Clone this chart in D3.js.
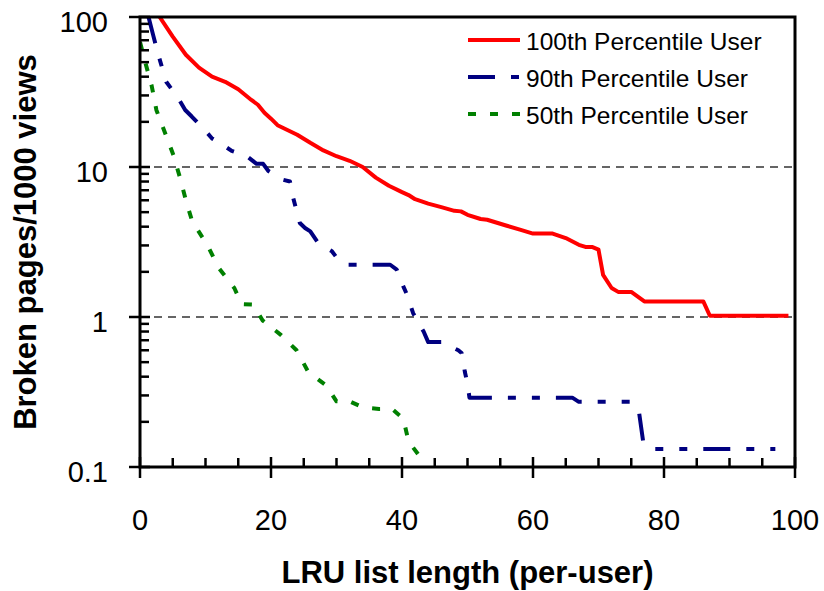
<!DOCTYPE html>
<html><head><meta charset="utf-8">
<script src="https://cdn.jsdelivr.net/npm/d3@7"></script>
<style>
html,body{margin:0;padding:0;background:#fff;}
svg{display:block;font-family:"Liberation Sans",Arial,sans-serif;}
</style></head>
<body>
<svg id="chart" width="824" height="591"></svg>
<script>
// ---- data ----
const seriesNames = ["100th Percentile User", "90th Percentile User", "50th Percentile User"];
const xTickLabels = [0, 20, 40, 60, 80, 100];
const yTickLabels = [0.1, 1, 10, 100];
const p100 = [[3,100],[5,74],[7,56],[9,46],[11,40],[13,37],[15,33],[17,28],[18,26],[19,23],[20,21],[21,19],[24,16.4],[26,14.5],[28,12.9],[30,11.8],[32,11],[34,10],[36,8.5],[38,7.5],[40,6.8],[41,6.5],[42,6.1],[44,5.7],[46,5.4],[48,5.1],[49,5.06],[50,4.8],[52,4.5],[53,4.45],[56,4.06],[58,3.82],[60,3.6],[63,3.6],[65,3.36],[67,3.03],[68,2.93],[69,2.93],[70,2.81],[70.7,1.91],[72,1.56],[73,1.47],[75,1.47],[77,1.27],[86,1.27],[87,1.02],[99,1.02]];
const p90 = [[1.3,100],[2,76],[2.8,56],[4,37],[5.8,29],[6.9,24],[7.9,21.7],[10.2,17],[11,15.5],[13,13.7],[14,12.8],[16.3,11.8],[17.8,10.5],[18.8,10.5],[19.6,9.4],[21.9,8.2],[22.9,8.0],[23.4,6.2],[24.4,4.23],[25.2,3.92],[26,3.72],[27.2,3.11],[29.3,2.74],[30,2.5],[31.6,2.23],[38.2,2.23],[39.2,2.07],[40.2,1.6],[40.7,1.43],[41.7,1.06],[43.3,0.8],[44,0.68],[46,0.68],[48.6,0.6],[49.1,0.575],[49.6,0.43],[50,0.36],[50.3,0.29],[66,0.29],[67,0.272],[75,0.272],[76.2,0.23],[76.8,0.15],[78,0.132],[97,0.132]];
const p50 = [[0,68],[0.8,50],[1.8,34.5],[2.5,24],[3.8,17],[5.1,12],[6.1,8.5],[7.1,5.8],[8,4.3],[8.5,4.0],[10.3,3.0],[12.1,2.1],[14.4,1.56],[15.5,1.22],[17.3,1.21],[18.7,0.95],[21.5,0.76],[23.9,0.6],[25.7,0.43],[28.4,0.35],[30,0.274],[32,0.274],[34,0.25],[36.5,0.244],[38.5,0.244],[40.2,0.21],[41,0.148],[42.5,0.121],[44,0.121]];

const seriesData = [p100, p90, p50];
const colors = ["#ff0000", "#000080", "#008000"];
const dashes = [null, "27,16,8,16,8,16", "8,14"];

// ---- layout ----
const L = 140, R = 795, T = 17, B = 467;
const svg = d3.select("#chart");
const x = d3.scaleLinear().domain([0, 100]).range([L, R]);
const y = d3.scaleLog().domain([0.1, 100]).range([B, T]);

// gridlines at 1 and 10
svg.append("g").selectAll("line").data([1, 10]).join("line")
  .attr("x1", L).attr("x2", R).attr("y1", d => y(d)).attr("y2", d => y(d))
  .attr("stroke", "#333").attr("stroke-width", 1.3).attr("stroke-dasharray", "8,6");

// series
const clip = svg.append("clipPath").attr("id", "clip").append("rect")
  .attr("x", L).attr("y", T).attr("width", R - L).attr("height", B - T);
const line = d3.line().x(d => x(d[0])).y(d => y(d[1]));
svg.append("g").attr("clip-path", "url(#clip)").selectAll("path").data(seriesData).join("path")
  .attr("d", line).attr("fill", "none")
  .attr("stroke", (d, i) => colors[i]).attr("stroke-width", 4)
  .attr("stroke-linejoin", "round")
  .attr("stroke-dasharray", (d, i) => dashes[i]);

// frame
svg.append("rect").attr("x", L).attr("y", T).attr("width", R - L).attr("height", B - T)
  .attr("fill", "none").attr("stroke", "#000").attr("stroke-width", 3);

// x ticks
const xMinor = d3.range(0, 101, 5).filter(v => v % 20 !== 0);
const gx = svg.append("g").attr("stroke", "#000").attr("stroke-width", 2.5);
gx.selectAll(".maj").data(xTickLabels).join("line")
  .attr("x1", d => x(d)).attr("x2", d => x(d)).attr("y1", B - 10).attr("y2", B + 11);
gx.selectAll(".min").data(xMinor).join("line")
  .attr("x1", d => x(d)).attr("x2", d => x(d)).attr("y1", B - 9).attr("y2", B);
svg.append("g").selectAll("text").data(xTickLabels).join("text")
  .attr("x", d => x(d)).attr("y", 530).attr("text-anchor", "middle")
  .attr("font-size", 29).text(d => d);

// y ticks
const yMinor = [];
[0.1, 1, 10].forEach(dec => { for (let k = 2; k <= 9; k++) yMinor.push(dec * k); });
const gy = svg.append("g").attr("stroke", "#000").attr("stroke-width", 2.5);
gy.selectAll(".maj").data(yTickLabels).join("line")
  .attr("x1", L - 11).attr("x2", L + 10).attr("y1", d => y(d)).attr("y2", d => y(d));
gy.selectAll(".min").data(yMinor).join("line")
  .attr("x1", L).attr("x2", L + 9).attr("y1", d => y(d)).attr("y2", d => y(d));
svg.append("g").selectAll("text").data(yTickLabels).join("text")
  .attr("x", 108).attr("y", d => y(d) + 14.5).attr("text-anchor", "end")
  .attr("font-size", 29).text(d => d);

// axis titles
svg.append("text").attr("x", (L + R) / 2).attr("y", 583).attr("text-anchor", "middle")
  .attr("font-size", 31).attr("font-weight", "bold").text("LRU list length (per-user)");
svg.append("text").attr("transform", "translate(36,242) rotate(-90)").attr("text-anchor", "middle")
  .attr("font-size", 31).attr("font-weight", "bold").text("Broken pages/1000 views");

// legend
const lg = svg.append("g");
const legY = [40, 77, 114];
seriesNames.forEach((name, i) => {
  lg.append("line").attr("x1", 468).attr("x2", 520).attr("y1", legY[i]).attr("y2", legY[i])
    .attr("stroke", colors[i]).attr("stroke-width", 4).attr("stroke-dasharray", dashes[i]);
  lg.append("text").attr("x", 526).attr("y", legY[i] + 9.5).attr("font-size", 24.5).text(name);
});
</script>
</body></html>
